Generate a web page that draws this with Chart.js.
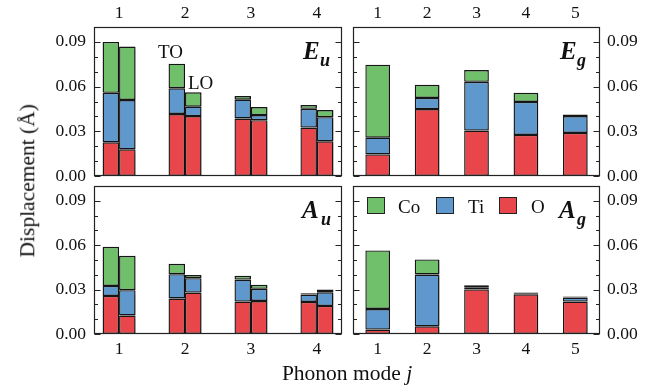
<!DOCTYPE html>
<html>
<head>
<meta charset="utf-8">
<script src="https://cdn.jsdelivr.net/npm/chart.js"></script>
<style>
  body { margin: 0; background: #fff; }
  #page { position: relative; width: 667px; height: 388px; overflow: hidden; font-family: 'Liberation Serif', 'Times New Roman', serif; color: #111; }
  canvas { position: absolute; left: 0; top: 0; }
  .t { position: absolute; line-height: 1; white-space: nowrap; }
  .sym { font-weight: bold; font-style: italic; }
  .box { position: absolute; width: 16px; height: 15px; border: 1px solid #222; }
</style>
</head>
<body>
<div id="page">
  <canvas id="eu" width="667" height="388"></canvas>
  <canvas id="eg" width="667" height="388"></canvas>
  <canvas id="au" width="667" height="388"></canvas>
  <canvas id="ag" width="667" height="388"></canvas>

  <div class="t" style="left:158px;top:41.7px;font-size:19px">TO</div>
  <div class="t" style="left:188px;top:72.7px;font-size:19px">LO</div>

  <div class="t sym" style="left:303px;top:38px;font-size:25px">E</div>
  <div class="t sym" style="left:320px;top:51px;font-size:18px">u</div>
  <div class="t sym" style="left:560px;top:38px;font-size:25px">E</div>
  <div class="t sym" style="left:577px;top:51px;font-size:18px">g</div>
  <div class="t sym" style="left:302px;top:197px;font-size:25px">A</div>
  <div class="t sym" style="left:321px;top:209.5px;font-size:18px">u</div>
  <div class="t sym" style="left:559px;top:197px;font-size:25px">A</div>
  <div class="t sym" style="left:577px;top:209.5px;font-size:18px">g</div>

  <div class="box" style="left:367px;top:197px;background:#70bf6b"></div>
  <div class="t" style="left:398px;top:196.6px;font-size:19px">Co</div>
  <div class="box" style="left:436px;top:197px;background:#5e98cc"></div>
  <div class="t" style="left:468px;top:196.6px;font-size:19px">Ti</div>
  <div class="box" style="left:499px;top:197px;background:#e8464b"></div>
  <div class="t" style="left:531px;top:196.6px;font-size:19px">O</div>

  <div class="t" style="left:-72px;top:170.2px;width:200px;text-align:center;font-size:21.5px;transform:rotate(-90deg)">Displacement (Å)</div>
  <div class="t" style="left:247px;top:363px;width:200px;text-align:center;font-size:21.5px">Phonon mode <i>j</i></div>
</div>

<script>
const oddModes = [1, 2, 3, 4];
const evenModes = [1, 2, 3, 4, 5];
const yTicks = [0, 0.03, 0.06, 0.09];
const yMinorTicks = [0.01, 0.02, 0.04, 0.05, 0.07, 0.08];

// E_u, TO and LO branches (Å)
const euTO_O  = [0.0226, 0.0416, 0.0386, 0.0325];
const euTO_Ti = [0.0332, 0.0173, 0.0126, 0.0126];
const euTO_Co = [0.0342, 0.0165, 0.0025, 0.0025];
const euLO_O  = [0.0179, 0.0402, 0.0375, 0.0233];
const euLO_Ti = [0.0331, 0.0063, 0.0034, 0.0162];
const euLO_Co = [0.0359, 0.0097, 0.0054, 0.0048];

// E_g
const eg_O  = [0.0145, 0.0449, 0.0305, 0.0276, 0.0289];
const eg_Ti = [0.0112, 0.0075, 0.0327, 0.0221, 0.0113];
const eg_Co = [0.0490, 0.0088, 0.0079, 0.0061, 0.0011];

// A_u, TO and LO branches
const auTO_O  = [0.0257, 0.0240, 0.0219, 0.0217];
const auTO_Ti = [0.0068, 0.0164, 0.0149, 0.0050];
const auTO_Co = [0.0264, 0.0070, 0.0025, 0.0009];
const auLO_O  = [0.0125, 0.0280, 0.0223, 0.0190];
const auLO_Ti = [0.0171, 0.0097, 0.0082, 0.0092];
const auLO_Co = [0.0232, 0.0022, 0.0027, 0.0019];

// A_g
const ag_O  = [0.0030, 0.0052, 0.0301, 0.0268, 0.0219];
const ag_Ti = [0.0139, 0.0350, 0.0015, 0.0004, 0.0027];
const ag_Co = [0.0396, 0.0102, 0.0014, 0.0009, 0.0007];

const colors = { Co: '#70bf6b', Ti: '#5e98cc', O: '#e8464b' };
const edge = '#161616';
const tickFont = { family: 'Liberation Serif', size: 17.5 };
const W = 667, H = 388;

const frame = {
  id: 'frame',
  beforeDatasetsDraw(chart) {
    const ctx = chart.ctx;
    ctx.save();
    ctx.shadowColor = 'rgba(0,0,0,0.22)';
    ctx.shadowOffsetX = 1.5;
    ctx.shadowOffsetY = 0.5;
    ctx.shadowBlur = 1;
  },
  afterDatasetsDraw(chart) {
    chart.ctx.restore();
  },
  afterDraw(chart) {
    const { ctx, chartArea: a, scales: { y } } = chart;
    const l = Math.round(a.left) + 0.5, r = Math.round(a.right) - 0.5;
    const t = Math.round(a.top) + 0.5, b = Math.round(a.bottom) - 0.5;
    ctx.save();
    ctx.strokeStyle = '#222';
    ctx.lineWidth = 1.2;
    ctx.strokeRect(l, t, r - l, b - t);
    ctx.lineWidth = 1;
    ctx.beginPath();
    const mark = (v, len) => {
      const py = Math.round(y.getPixelForValue(v)) + 0.5;
      ctx.moveTo(l, py); ctx.lineTo(l + len, py);
      ctx.moveTo(r, py); ctx.lineTo(r - len, py);
    };
    yTicks.forEach(v => mark(v, 6));
    yMinorTicks.forEach(v => mark(v, 3.5));
    ctx.stroke();
    ctx.restore();
  }
};

function stackSets(stack, modes, O, Ti, Co) {
  return [['O', O], ['Ti', Ti], ['Co', Co]].map(([el, vals]) => ({
    label: el,
    stack,
    data: modes.map((m, i) => ({ x: m, y: vals[i] })),
    backgroundColor: colors[el],
    borderColor: edge,
    borderWidth: 1.4,
    borderSkipped: false,
    categoryPercentage: 0.5,
    barPercentage: 1
  }));
}

function panel(id, area, modes, xMin, xMax, datasets, xPos, yPos) {
  const XH = 30, YW = 60;
  const pad = {
    left: yPos === 'left' ? area.l - YW : area.l,
    right: yPos === 'right' ? W - area.r - YW : W - area.r,
    top: xPos === 'top' ? area.t - XH : area.t,
    bottom: xPos === 'bottom' ? H - area.b - XH : H - area.b
  };
  new Chart(document.getElementById(id), {
    type: 'bar',
    data: { datasets },
    options: {
      responsive: false,
      animation: false,
      layout: { padding: pad },
      plugins: { legend: { display: false }, tooltip: { enabled: false } },
      scales: {
        x: {
          type: 'linear', position: xPos, min: xMin, max: xMax, offset: false,
          grid: { display: false, drawTicks: false }, border: { display: false },
          afterBuildTicks: s => { s.ticks = modes.map(v => ({ value: v })); },
          afterFit: s => { s.height = XH; },
          ticks: { font: tickFont, color: '#111', padding: xPos === 'top' ? 3 : 5,
                   maxRotation: 0, autoSkip: false, callback: v => String(v) }
        },
        y: {
          position: yPos, stacked: true, min: 0, max: 0.1,
          grid: { display: false, drawTicks: false }, border: { display: false },
          afterBuildTicks: s => { s.ticks = yTicks.map(v => ({ value: v })); },
          afterFit: s => { s.width = YW; },
          ticks: { font: tickFont, color: '#111', padding: yPos === 'left' ? 8 : 7,
                   callback: v => v.toFixed(2) }
        }
      }
    },
    plugins: [frame]
  });
}

function drawAll() {
  panel('eu', { l: 94, r: 342, t: 27, b: 176 }, oddModes, 0.62, 4.38,
    stackSets('TO', oddModes, euTO_O, euTO_Ti, euTO_Co).concat(stackSets('LO', oddModes, euLO_O, euLO_Ti, euLO_Co)),
    'top', 'left');
  panel('eg', { l: 353, r: 600, t: 27, b: 176 }, evenModes, 0.5, 5.5,
    stackSets('all', evenModes, eg_O, eg_Ti, eg_Co), 'top', 'right');
  panel('au', { l: 94, r: 342, t: 186, b: 334 }, oddModes, 0.62, 4.38,
    stackSets('TO', oddModes, auTO_O, auTO_Ti, auTO_Co).concat(stackSets('LO', oddModes, auLO_O, auLO_Ti, auLO_Co)),
    'bottom', 'left');
  panel('ag', { l: 353, r: 600, t: 186, b: 334 }, evenModes, 0.5, 5.5,
    stackSets('all', evenModes, ag_O, ag_Ti, ag_Co), 'bottom', 'right');
}

document.fonts.load('17px "Liberation Serif"').then(drawAll, drawAll);
</script>
</body>
</html>
